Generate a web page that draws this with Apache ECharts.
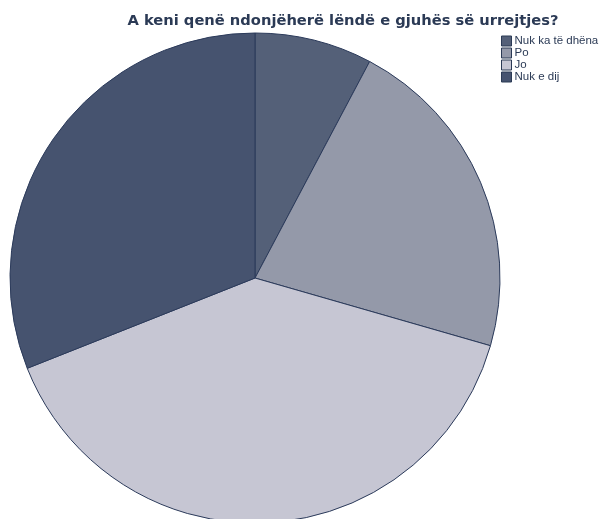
<!DOCTYPE html>
<html><head><meta charset="utf-8">
<script src="https://cdn.jsdelivr.net/npm/echarts@6/dist/echarts.min.js"></script>
<style>html,body{margin:0;padding:0;background:#fff}#c{width:600px;height:519px}</style>
</head><body><div id="c"></div>
<script>
const categories = ["Nuk ka të dhëna", "Po", "Jo", "Nuk e dij"];
const values = [10, 28, 51, 40];
const colors = ["#546078", "#9499a9", "#c6c6d3", "#46536f"];

const chart = echarts.init(document.getElementById('c'), null, {renderer: 'canvas'});
chart.setOption({
  animation: false,
  title: {
    text: "A keni qenë ndonjëherë lëndë e gjuhës së urrejtjes?",
    left: 338, top: 9, textAlign: 'center',
    textStyle: {fontFamily: 'DejaVu Sans', fontSize: 14.7, fontWeight: 'bold', color: '#2b3a55'}
  },
  legend: {
    orient: 'vertical', left: 501, top: 35, padding: 0,
    itemWidth: 10, itemHeight: 10, itemGap: 0,
    icon: 'rect',
    textStyle: {fontFamily: 'Liberation Sans', fontSize: 11.5, lineHeight: 12, color: '#2b3a55', padding: [0,0,0,-2]},
    itemStyle: {borderColor: '#2b3a55', borderWidth: 1},
    data: categories
  },
  series: [{
    type: 'pie',
    center: [255, 278],
    radius: 245,
    startAngle: 90,
    clockwise: true,
    label: {show: false},
    labelLine: {show: false},
    emphasis: {disabled: true},
    itemStyle: {borderColor: '#2b3a5a', borderWidth: 1},
    data: categories.map((n, i) => ({name: n, value: values[i], itemStyle: {color: colors[i]}}))
  }]
});
</script></body></html>
